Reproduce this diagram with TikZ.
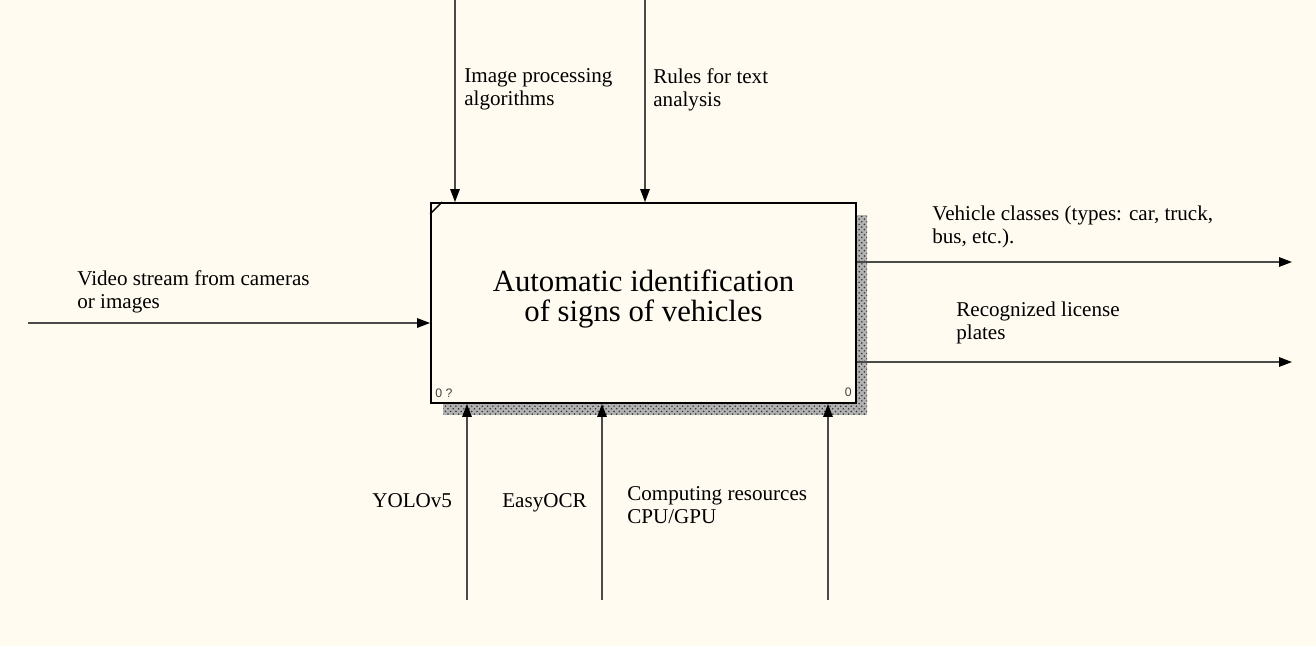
\documentclass[tikz,border=0pt]{standalone}
\usepackage{fontspec}
\setmainfont{Liberation Serif}
\newfontfamily\tagfont{Liberation Sans}
\usetikzlibrary{arrows.meta, positioning, patterns}
\definecolor{paper}{HTML}{FFFBF0}
\definecolor{wire}{HTML}{4A4A4A}

\begin{document}
\begin{tikzpicture}[
    x=0.02cm, y=-0.02cm,
    func/.style={rectangle, draw=black, line width=1.1pt, fill=paper, minimum width=8.5cm, minimum height=4cm, inner sep=0pt},
    lbl/.style={anchor=north west, align=left, inner sep=0pt, font=\fontsize{12}{13}\selectfont},
    tag/.style={inner sep=0pt, font=\tagfont\fontsize{7}{8}\selectfont, text=black!75},
    flow/.style={draw=wire, line width=0.8pt, -{Triangle[length=0.26cm, width=0.19cm, black]}}
  ]
  \fill[paper] (0,0) rectangle (1316,646);
  \useasboundingbox (0,0) rectangle (1316,646);

  % shadow, then the activity box
  \fill[black!30] (443,215) rectangle (867,415);
  \fill[pattern=crosshatch dots, pattern color=black!80] (443,215) rectangle (867,415);
  \node (act) [func] at (643.5,303) {};
  \node (title) at ([yshift=0.08cm]act.center) [font=\fontsize{17.5}{17.6}\selectfont, align=center] {Automatic identification\\of signs of vehicles};
  \draw[line width=0.8pt] ([yshift=-0.24cm]act.north west) -- ([xshift=0.24cm]act.north west);
  \node (tagl) [tag, anchor=base west] at (435,397) {0 ?};
  \node (tagr) [tag, anchor=base east] at (852,396) {0};

  % input
  \coordinate (in1) at (28,323);
  \draw[flow] (in1) -- (in1 -| act.west);
  \node (inp) [lbl] at (77,270) {Video stream from cameras\\or images};

  % controls
  \coordinate (ctl1) at (455,0);
  \coordinate (ctl2) at (645,0);
  \draw[flow] (ctl1) -- (ctl1 |- act.north);
  \draw[flow] (ctl2) -- (ctl2 |- act.north);
  \node (algo) [lbl] at (464,68) {Image processing\\algorithms};
  \node (rules) [lbl] at (653,68) {Rules for text\\analysis};

  % outputs
  \coordinate (out1) at (1292,262);
  \coordinate (out2) at (1292,362);
  \draw[flow] (out1 -| act.east) -- (out1);
  \draw[flow] (out2 -| act.east) -- (out2);
  \node (classes) [lbl] at (932,206) {Vehicle classes (types: car, truck,\\bus, etc.).};
  \node (plates) [lbl] at (956,302) {Recognized license\\plates};

  % mechanisms
  \coordinate (mech1) at (467,600);
  \coordinate (mech2) at (602,600);
  \coordinate (mech3) at (828,600);
  \draw[flow] (mech1) -- (mech1 |- act.south);
  \draw[flow] (mech2) -- (mech2 |- act.south);
  \draw[flow] (mech3) -- (mech3 |- act.south);
  \node (yolo) [lbl] at (372,493) {YOLOv5};
  \node (ocr) [lbl] at (502,493) {EasyOCR};
  \node (cpu) [lbl] at (627,486) {Computing resources\\CPU/GPU};
\end{tikzpicture}
\end{document}
